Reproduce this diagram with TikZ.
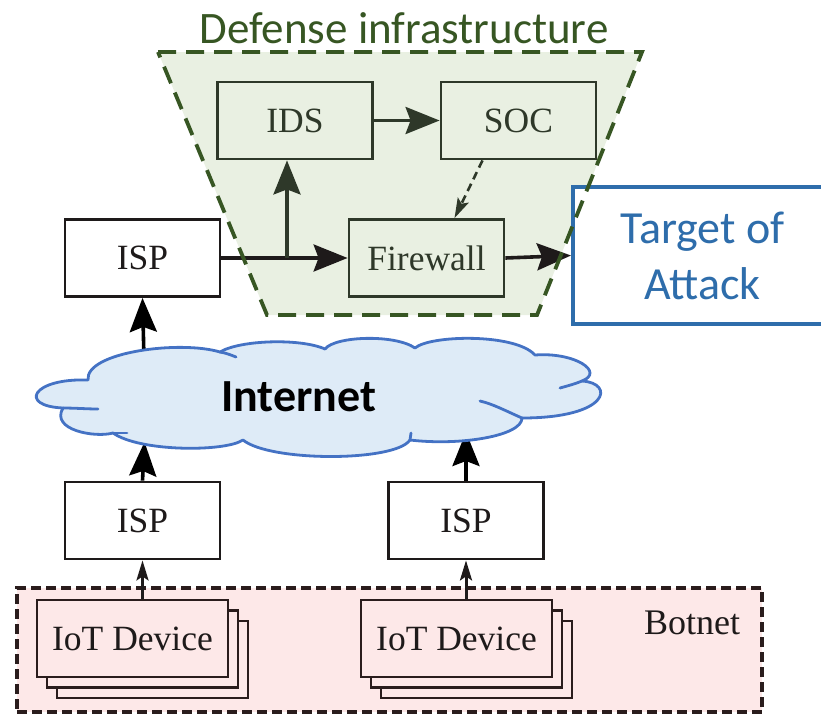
\documentclass[tikz,border=0pt]{standalone}
\usepackage{fontspec}
\setmainfont{Liberation Serif}
\newfontfamily\calib{Carlito}
\usetikzlibrary{arrows.meta}
\definecolor{defgreen}{HTML}{375623}
\definecolor{deffill}{HTML}{E9F0E2}
\definecolor{defline}{HTML}{2E3829}
\definecolor{tgtblue}{HTML}{2E6DAB}
\definecolor{cloudline}{HTML}{4472C4}
\definecolor{cloudfill}{HTML}{DEEBF7}
\definecolor{botfill}{HTML}{FDE8E8}
\definecolor{botline}{HTML}{2A1C1C}
\definecolor{inkblack}{HTML}{1E1A1A}
\begin{document}
\begin{tikzpicture}[x=1pt,y=-1pt,
  tbox/.style={draw=#1, line width=2.8pt, minimum width=155pt, minimum height=77pt,
    inner sep=0pt, font=\fontsize{35.5}{40}\selectfont, text=#1},
  iotbox/.style={draw=botline, fill=botfill, line width=2.8pt, minimum width=191pt,
    minimum height=77pt, inner sep=0pt, font=\fontsize{35.5}{40}\selectfont, text=inkblack},
  bigarr/.style={draw=#1, line width=3.6pt, -{Stealth[length=34pt,width=27pt,inset=5pt]}},
  smallarr/.style={draw=#1, line width=3pt, -{Stealth[length=20pt,width=12pt,inset=4pt]}},
  cloudline/.style={draw=cloudline, line width=2.8pt, line cap=round, line join=round},
]
\useasboundingbox (0,0) rectangle (821,715);

% Botnet region
\node[draw=botline, fill=botfill, dash pattern=on 10pt off 5pt, line width=3.2pt,
  minimum width=745pt, minimum height=124pt, inner sep=0pt] (botnet) at (389.5,650) {};
\node[font=\fontsize{36}{40}\selectfont, text=inkblack, anchor=base] (botlbl) at (692,634) {Botnet};

% Defense infrastructure region
\fill[deffill] (158,52) -- (642,52) -- (537,315) -- (267,315) -- cycle;
\node[font=\calib\fontsize{45}{50}\selectfont, text=defgreen, anchor=base] (deflbl) at (404,43) {Defense infrastructure};

\node[tbox=defline] (ids) at (295,120.5) {IDS};
\node[tbox=defline] (soc) at (518.5,120.5) {SOC};
\node[tbox=defline] (fw) at (426.5,258) {Firewall};

% ISPs
\node[tbox=inkblack, fill=white] (ispT) at (142.5,258) {ISP};
\node[tbox=inkblack, fill=white] (ispL) at (142.5,520.5) {ISP};
\node[tbox=inkblack, fill=white] (ispR) at (466,520.5) {ISP};

% Target
\node[draw=tgtblue, line width=4pt, fill=white, minimum width=259pt, minimum height=137pt,
  inner sep=0pt, align=center, text=tgtblue, font=\calib\fontsize{46}{56}\selectfont]
  (tgt) at (702.5,255.5) {Target of\\Attack};

% IoT device stacks
\node[iotbox] (iotLb2) at (152.5,659.5) {};
\node[iotbox] (iotLb1) at (142.5,649) {};
\node[iotbox] (iotL) at (132.5,638.5) {IoT Device};
\node[iotbox] (iotRb2) at (476.5,659.5) {};
\node[iotbox] (iotRb1) at (466.5,649) {};
\node[iotbox] (iotR) at (456.5,638.5) {IoT Device};

% defense arrows
\coordinate (br) at (287,258);
\draw[bigarr=inkblack] (ispT.east) -- (fw.west);
\draw[bigarr=defline] (br) -- (br |- ids.south);
\draw[bigarr=defline] (ids.east) -- (soc.west);
\draw[smallarr=defline, line width=2.6pt, dash pattern=on 8pt off 5pt]
  ([xshift=-36pt]soc.south) -- ([xshift=28pt]fw.north);
\draw[bigarr=inkblack] (fw.east) -- (tgt.west);

% trapezoid border on top
\draw[defgreen, line width=3.8pt, dash pattern=on 18pt off 10pt]
  (158,52) -- (642,52) -- (537,315) -- (267,315) -- cycle;

% IoT -> ISP
\draw[smallarr=inkblack] (ispL.south |- iotL.north) -- (ispL.south);
\draw[smallarr=inkblack] (ispR.south |- iotR.north) -- (ispR.south);

% ISP <-> Internet
\coordinate (cT) at (144.5,380);
\coordinate (cL) at (144.5,442);
\coordinate (cR) at (466,432);
\draw[bigarr=black] (cT) -- (ispT.south);
\draw[bigarr=black] (ispL.north) -- (cL);
\draw[bigarr=black] (ispR.north) -- (cR);

% Cloud
\path[fill=cloudfill, cloudline]
  (88,380) .. controls (85,352) and (180,340) .. (220,352)
  .. controls (240,340) and (300,338) .. (325,349)
  .. controls (335,336) and (395,334) .. (415,348)
  .. controls (430,335) and (515,333) .. (535,355)
  .. controls (575,352) and (605,372) .. (582,381)
  .. controls (615,383) and (610,418) .. (522,418)
  .. controls (522,436) and (460,446) .. (410,440)
  .. controls (395,462) and (270,462) .. (243,440)
  .. controls (225,452) and (140,452) .. (113,433)
  .. controls (95,438) and (50,430) .. (63,408)
  .. controls (18,406) and (32,378) .. (88,380) -- cycle;
\draw[cloudline] (220,352) .. controls (226,353) and (231,355) .. (236,357);
\draw[cloudline] (582,381) .. controls (575,384) and (567,386) .. (560,388);
\draw[cloudline] (522,418) .. controls (506,411) and (493,404) .. (480,401);
\draw[cloudline] (410,440) -- (411,433);
\draw[cloudline] (113,433) .. controls (118,433) and (122,433) .. (127,433);
\draw[cloudline] (63,408) .. controls (75,408) and (87,409) .. (98,409);
\node[font=\calib\bfseries\fontsize{46}{50}\selectfont, text=black] (inet) at (298.5,397) {Internet};
\end{tikzpicture}
\end{document}
